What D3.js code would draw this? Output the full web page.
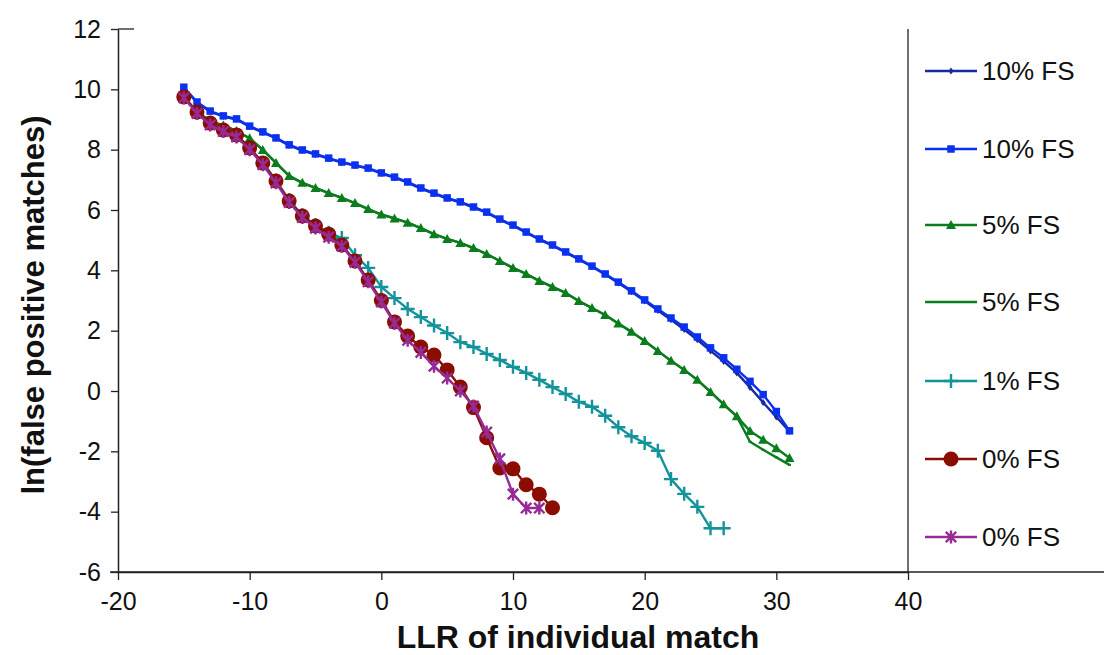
<!DOCTYPE html>
<html>
<head>
<meta charset="utf-8">
<script src="https://cdn.jsdelivr.net/npm/d3@7"></script>
<style>
  html, body { margin: 0; padding: 0; background: #fff; }
  svg { display: block; font-family: "Liberation Sans", Arial, sans-serif; }
</style>
</head>
<body>
<svg id="chart" width="1104" height="655"></svg>
<script>
// LLR of an individual match (x) for each curve
const xNavy   = d3.range(-15, 32);
const xBlue   = d3.range(-15, 32);
const xGreenA = d3.range(-15, 32);
const xGreenB = d3.range(-15, 32);
const xTeal   = d3.range(-15, 27);
const xRed    = d3.range(-15, 14);
const xPurple = d3.range(-15, 13);

// ln(false positive matches) per curve
const yNavy = [10.05, 9.56, 9.26, 9.10, 9.00, 8.76, 8.57, 8.37, 8.14, 7.97, 7.84, 7.70, 7.57, 7.47, 7.37,
  7.21, 7.07, 6.91, 6.71, 6.54, 6.38, 6.25, 6.08, 5.91, 5.68, 5.48, 5.25, 5.02, 4.82, 4.59, 4.36, 4.12,
  3.86, 3.58, 3.29, 2.98, 2.67, 2.36, 2.04, 1.70, 1.33, 0.98, 0.60, 0.12, -0.38, -0.86, -1.34];
const yBlue = [10.07, 9.58, 9.28, 9.12, 9.02, 8.78, 8.59, 8.39, 8.16, 7.99, 7.86, 7.72, 7.59, 7.49, 7.39,
  7.23, 7.09, 6.93, 6.73, 6.56, 6.40, 6.27, 6.10, 5.93, 5.70, 5.50, 5.27, 5.04, 4.84, 4.61, 4.38, 4.14,
  3.88, 3.61, 3.32, 3.02, 2.72, 2.42, 2.12, 1.79, 1.43, 1.10, 0.72, 0.32, -0.12, -0.68, -1.32];
const yGreenA = [9.75, 9.25, 8.95, 8.80, 8.62, 8.38, 7.99, 7.56, 7.13, 6.90, 6.73, 6.56, 6.40, 6.23, 6.03,
  5.85, 5.72, 5.58, 5.40, 5.20, 5.04, 4.91, 4.74, 4.54, 4.31, 4.08, 3.88, 3.65, 3.45, 3.25, 2.98, 2.75,
  2.52, 2.24, 1.96, 1.66, 1.33, 1.00, 0.70, 0.37, -0.03, -0.44, -0.84, -1.33, -1.62, -1.90, -2.22];
const yGreenB = [9.75, 9.25, 8.95, 8.80, 8.62, 8.38, 7.99, 7.56, 7.13, 6.90, 6.73, 6.56, 6.40, 6.23, 6.03,
  5.85, 5.72, 5.58, 5.40, 5.20, 5.04, 4.91, 4.74, 4.54, 4.31, 4.08, 3.88, 3.65, 3.45, 3.25, 2.98, 2.75,
  2.52, 2.24, 1.96, 1.66, 1.33, 1.00, 0.70, 0.37, -0.03, -0.44, -0.84, -1.68, -1.95, -2.20, -2.45];
const yTeal = [9.75, 9.22, 8.88, 8.66, 8.47, 8.05, 7.57, 6.98, 6.33, 5.83, 5.50, 5.25, 5.07, 4.50, 4.08,
  3.45, 3.08, 2.72, 2.45, 2.17, 1.92, 1.62, 1.46, 1.23, 1.03, 0.80, 0.60, 0.37, 0.13, -0.10, -0.36, -0.52,
  -0.82, -1.20, -1.50, -1.72, -1.98, -2.92, -3.41, -3.84, -4.55, -4.55];
const yRed = [9.75, 9.25, 8.88, 8.65, 8.49, 8.06, 7.56, 6.96, 6.30, 5.80, 5.47, 5.20, 4.84, 4.31, 3.68,
  3.00, 2.29, 1.82, 1.46, 1.19, 0.70, 0.13, -0.55, -1.55, -2.55, -2.58, -3.11, -3.42, -3.87];
const yPurple = [9.72, 9.20, 8.82, 8.60, 8.42, 8.00, 7.50, 6.90, 6.25, 5.75, 5.40, 5.10, 4.80, 4.27, 3.62,
  2.95, 2.25, 1.68, 1.28, 0.82, 0.43, 0.00, -0.50, -1.36, -2.25, -3.42, -3.88, -3.88];

const seriesNames = ["10% FS", "10% FS", "5% FS", "5% FS", "1% FS", "0% FS", "0% FS"];
const xTicks = [-20, -10, 0, 10, 20, 30, 40];
const yTicks = [-6, -4, -2, 0, 2, 4, 6, 8, 10, 12];

// drawing style for each curve, in drawing order
const styles = [
  { color: "#1a2a9a", marker: "diamond",  size: 5 },
  { color: "#0a30f0", marker: "square",   size: 7.5 },
  { color: "#0b7d1e", marker: "triangle", size: 8 },
  { color: "#0b7d1e", marker: "tiny",     size: 3 },
  { color: "#13939a", marker: "plus",     size: 14 },
  { color: "#8b0d00", marker: "circle",   size: 15 },
  { color: "#962b96", marker: "star",     size: 13 }
];

const series = [
  [xNavy, yNavy], [xBlue, yBlue], [xGreenA, yGreenA], [xGreenB, yGreenB],
  [xTeal, yTeal], [xRed, yRed], [xPurple, yPurple]
].map(([xs, ys], i) => ({
  name: seriesNames[i],
  style: styles[i],
  points: xs.map((x, j) => ({ x, y: ys[j] }))
}));

const svg = d3.select("#chart");
const plotLeft = 118, plotRight = 908, plotTop = 29, plotBottom = 572;

const x = d3.scaleLinear().domain([-20, 40]).range([plotLeft, plotRight]);
const y = d3.scaleLinear().domain([-6, 12]).range([plotBottom, plotTop]);

// plain hyphen-minus for negative tick values
const fmt = d => String(d);

// axes
const yAxis = svg.append("g").attr("transform", `translate(${plotLeft},0)`)
  .call(d3.axisLeft(y).tickValues(yTicks).tickFormat(fmt).tickSize(7).tickSizeOuter(0).tickPadding(10));
const xAxis = svg.append("g").attr("transform", `translate(0,${plotBottom})`)
  .call(d3.axisBottom(x).tickValues(xTicks).tickFormat(fmt).tickSize(8).tickSizeOuter(0).tickPadding(12));
[xAxis, yAxis].forEach(g => {
  g.select(".domain").attr("stroke", "#222").attr("stroke-width", 1.5);
  g.selectAll(".tick line").attr("stroke", "#222").attr("stroke-width", 1.3);
  g.selectAll("text").attr("fill", "#111").attr("font-family", "'Liberation Sans', Arial, sans-serif");
});
yAxis.selectAll("text").attr("font-size", 25);
xAxis.selectAll("text").attr("font-size", 25);

// x axis line runs under the legend, vertical rule at the right of the plot
svg.append("line").attr("x1", plotLeft - 8).attr("x2", 1104).attr("y1", plotBottom).attr("y2", plotBottom)
  .attr("stroke", "#222").attr("stroke-width", 1.5);
svg.append("line").attr("x1", plotRight).attr("x2", plotRight).attr("y1", plotTop).attr("y2", plotBottom)
  .attr("stroke", "#222").attr("stroke-width", 1.3);
svg.append("line").attr("x1", plotLeft).attr("x2", plotLeft + 16).attr("y1", plotTop).attr("y2", plotTop)
  .attr("stroke", "#222").attr("stroke-width", 1.3);

// axis titles
svg.append("text").attr("x", 578).attr("y", 648).attr("text-anchor", "middle")
  .attr("font-size", 32).attr("font-weight", "bold").attr("fill", "#111")
  .text("LLR of individual match");
svg.append("text").attr("transform", "translate(44,305) rotate(-90)").attr("text-anchor", "middle")
  .attr("font-size", 31).attr("font-weight", "bold").attr("fill", "#111")
  .text("ln(false positive matches)");

// marker drawing
function drawMarker(g, st, cx, cy) {
  const s = st.size, h = s / 2;
  switch (st.marker) {
    case "square":
      g.append("rect").attr("x", cx - h).attr("y", cy - h).attr("width", s).attr("height", s)
        .attr("fill", st.color);
      break;
    case "diamond":
      g.append("path").attr("d", `M${cx},${cy - h - 1}L${cx + h},${cy}L${cx},${cy + h + 1}L${cx - h},${cy}Z`)
        .attr("fill", st.color);
      break;
    case "triangle":
      g.append("path").attr("d", `M${cx},${cy - h - 1}L${cx + h + 1},${cy + h}L${cx - h - 1},${cy + h}Z`)
        .attr("fill", st.color);
      break;
    case "tiny":
      g.append("rect").attr("x", cx - h).attr("y", cy - 1).attr("width", s).attr("height", 2)
        .attr("fill", st.color);
      break;
    case "circle":
      g.append("circle").attr("cx", cx).attr("cy", cy).attr("r", h).attr("fill", st.color);
      break;
    case "plus":
      g.append("path").attr("d", `M${cx - h},${cy}H${cx + h}M${cx},${cy - h}V${cy + h}`)
        .attr("stroke", st.color).attr("stroke-width", 2.4).attr("fill", "none");
      break;
    case "star": {
      const d = h * 0.8;
      g.append("path")
        .attr("d", `M${cx},${cy - h}V${cy + h}M${cx - d},${cy - d}L${cx + d},${cy + d}M${cx - d},${cy + d}L${cx + d},${cy - d}`)
        .attr("stroke", st.color).attr("stroke-width", 2.4).attr("fill", "none");
      break;
    }
  }
}

const line = d3.line().x(d => x(d.x)).y(d => y(d.y));

series.forEach(s => {
  const g = svg.append("g");
  g.append("path").datum(s.points).attr("d", line)
    .attr("fill", "none").attr("stroke", s.style.color).attr("stroke-width", 2.4)
    .attr("stroke-linejoin", "round");
  s.points.forEach(p => drawMarker(g, s.style, x(p.x), y(p.y)));
});

// legend
const legendY = [71, 149, 225, 302, 381, 459, 537];
series.forEach((s, i) => {
  const g = svg.append("g").attr("transform", `translate(0,${legendY[i]})`);
  g.append("line").attr("x1", 925).attr("x2", 977).attr("y1", 0).attr("y2", 0)
    .attr("stroke", s.style.color).attr("stroke-width", 2.4);
  drawMarker(g, s.style, 951, 0);
  g.append("text").attr("x", 982).attr("y", 0).attr("dy", "0.36em")
    .attr("font-size", 26).attr("fill", "#111").text(s.name);
});
</script>
</body>
</html>
